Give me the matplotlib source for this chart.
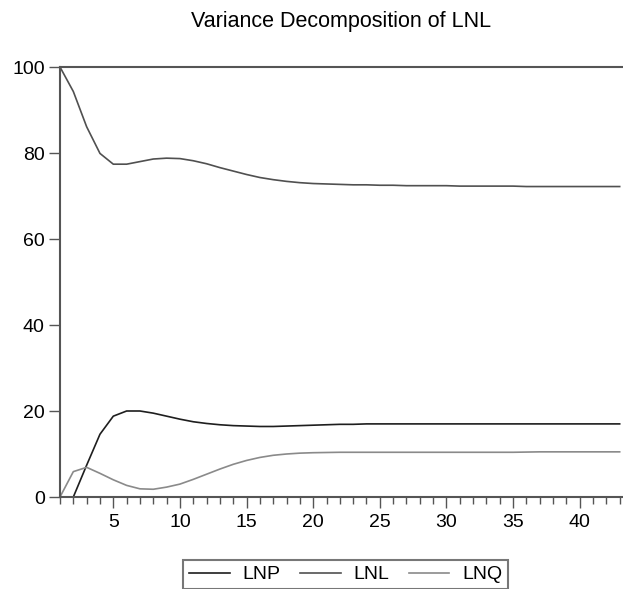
import numpy as np
import matplotlib
matplotlib.use('Agg')
import matplotlib.pyplot as plt
from matplotlib.ticker import MultipleLocator

plt.rcParams['font.family'] = ['Liberation Sans', 'DejaVu Sans']

periods = list(range(1, 44))

lnp = [0.0, 0.0, 7.4, 14.6, 18.8, 20.0, 20.0, 19.5, 18.8, 18.1,
       17.5, 17.1, 16.8, 16.6, 16.5, 16.4, 16.4, 16.5, 16.6, 16.7,
       16.8, 16.9, 16.9, 17.0, 17.0, 17.0, 17.0, 17.0, 17.0, 17.0,
       17.0, 17.0, 17.0, 17.0, 17.0, 17.0, 17.0, 17.0, 17.0, 17.0,
       17.0, 17.0, 17.0]
lnl = [100.0, 94.3, 86.1, 79.9, 77.4, 77.4, 78.0, 78.6, 78.8, 78.7,
       78.2, 77.5, 76.6, 75.8, 75.0, 74.3, 73.8, 73.4, 73.1, 72.9,
       72.8, 72.7, 72.6, 72.6, 72.5, 72.5, 72.4, 72.4, 72.4, 72.4,
       72.3, 72.3, 72.3, 72.3, 72.3, 72.2, 72.2, 72.2, 72.2, 72.2,
       72.2, 72.2, 72.2]
lnq = [0.0, 5.9, 6.9, 5.5, 4.0, 2.7, 1.9, 1.8, 2.3, 3.0,
       4.1, 5.3, 6.5, 7.6, 8.5, 9.2, 9.7, 10.0, 10.2, 10.3,
       10.35, 10.4, 10.4, 10.4, 10.4, 10.4, 10.4, 10.4, 10.4, 10.4,
       10.4, 10.4, 10.4, 10.4, 10.4, 10.45, 10.5, 10.5, 10.5, 10.5,
       10.5, 10.5, 10.5]

W, H = 623, 589
fig = plt.figure(figsize=(W / 100, H / 100), dpi=100)
ax = fig.add_axes([60 / W, 1 - 497 / H, 1 - 60 / W, (497 - 67) / H])

l1, = ax.plot(periods, lnp, color='#1e1e1e', lw=1.2)
l2, = ax.plot(periods, lnl, color='#505050', lw=1.2)
l3, = ax.plot(periods, lnq, color='#8a8a8a', lw=1.2)

ax.set_xlim(1, 43.25)
ax.set_ylim(0, 100)
ax.xaxis.set_major_locator(MultipleLocator(5))
ax.xaxis.set_minor_locator(MultipleLocator(1))
ax.yaxis.set_major_locator(MultipleLocator(20))

for s in ['left', 'bottom', 'top']:
    ax.spines[s].set_color('#555555')
    ax.spines[s].set_linewidth(1.5)
ax.spines['right'].set_visible(False)

ax.tick_params(axis='x', which='major', direction='out', length=8, width=1, color='#555555', labelsize=14, pad=4)
ax.tick_params(axis='x', which='minor', direction='out', length=5, width=1, color='#555555')
ax.tick_params(axis='y', which='major', direction='out', length=8, width=1, color='#555555', labelsize=14, pad=3)

fig.text(341 / W, 1 - 22 / H, 'Variance Decomposition of LNL', ha='center', va='center', fontsize=15.5)

leg = fig.legend([l1, l2, l3], ['LNP', 'LNL', 'LNQ'], loc='upper left',
                 bbox_to_anchor=(183 / W, 1 - 560 / H), ncol=3, fontsize=14,
                 frameon=True, fancybox=False, handlelength=2.1, columnspacing=1.0,
                 handletextpad=0.65, borderpad=0.3, borderaxespad=0)
leg.get_frame().set_edgecolor('#555555')
leg.get_frame().set_linewidth(1.5)

fig.savefig('out.png', dpi=100)
